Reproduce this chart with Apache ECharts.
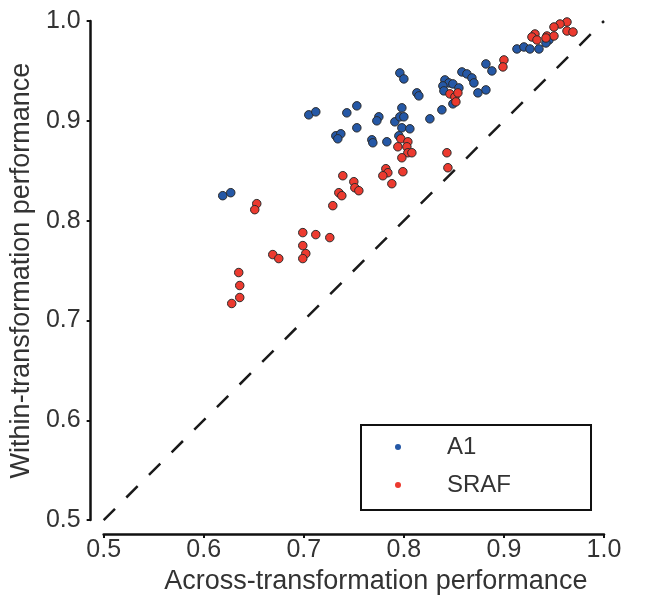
<!DOCTYPE html>
<html>
<head>
<meta charset="utf-8">
<script src="https://cdn.jsdelivr.net/npm/echarts@6/dist/echarts.min.js"></script>
<style>
  html, body { margin: 0; padding: 0; background: #fff; }
  #chart { width: 647px; height: 600px; }
</style>
</head>
<body>
<div id="chart"></div>
<script>
// axis range / ticks
var axisMin = 0.5;
var axisMax = 1.0;
var tickStep = 0.1;

// A1 points: [across, within]
var a1Points = [
  [0.796, 0.948], [0.800, 0.942], [0.813, 0.928], [0.815, 0.925], [0.705, 0.906],
  [0.712, 0.909], [0.743, 0.908], [0.753, 0.915], [0.798, 0.913], [0.775, 0.904],
  [0.773, 0.900], [0.791, 0.899], [0.796, 0.904], [0.800, 0.904], [0.753, 0.893],
  [0.798, 0.893], [0.806, 0.892], [0.732, 0.885], [0.737, 0.887], [0.734, 0.882],
  [0.768, 0.881], [0.769, 0.878], [0.783, 0.879], [0.795, 0.885], [0.619, 0.825],
  [0.627, 0.828], [0.945, 0.981], [0.942, 0.978], [0.913, 0.972], [0.920, 0.974],
  [0.926, 0.972], [0.935, 0.972], [0.882, 0.957], [0.888, 0.950], [0.858, 0.949],
  [0.863, 0.947], [0.868, 0.943], [0.870, 0.938], [0.841, 0.941], [0.845, 0.938],
  [0.849, 0.937], [0.839, 0.935], [0.855, 0.933], [0.840, 0.930], [0.882, 0.931],
  [0.874, 0.928], [0.849, 0.917], [0.838, 0.911], [0.826, 0.902]
];

// SRAF points: [across, within]
var srafPoints = [
  [0.797, 0.882], [0.804, 0.879], [0.794, 0.874], [0.803, 0.874], [0.804, 0.868],
  [0.808, 0.868], [0.798, 0.863], [0.782, 0.852], [0.784, 0.848], [0.779, 0.845],
  [0.799, 0.849], [0.788, 0.837], [0.739, 0.845], [0.750, 0.839], [0.751, 0.833],
  [0.755, 0.830], [0.735, 0.828], [0.738, 0.825], [0.729, 0.815], [0.653, 0.817],
  [0.651, 0.811], [0.699, 0.788], [0.712, 0.786], [0.726, 0.783], [0.699, 0.775],
  [0.669, 0.766], [0.675, 0.762], [0.702, 0.767], [0.699, 0.762], [0.635, 0.748],
  [0.636, 0.735], [0.636, 0.723], [0.628, 0.717], [0.963, 0.999], [0.956, 0.997],
  [0.950, 0.994], [0.963, 0.990], [0.969, 0.989], [0.943, 0.985], [0.950, 0.985],
  [0.931, 0.987], [0.928, 0.984], [0.933, 0.981], [0.942, 0.983], [0.900, 0.961],
  [0.899, 0.954], [0.846, 0.927], [0.851, 0.924], [0.854, 0.928], [0.852, 0.919],
  [0.843, 0.868], [0.844, 0.853]
];

// y = x reference
var identityLine = [[0.5, 0.5], [1.0, 1.0]];

var font = 'Liberation Sans, Arial, Helvetica, sans-serif';
var ink = '#333';

var myChart = echarts.init(document.getElementById('chart'));

function axisCommon(name) {
  return {
    type: 'value',
    name: name,
    nameLocation: 'middle',
    min: axisMin,
    max: axisMax,
    interval: tickStep,
    splitLine: { show: false },
    axisLine: { show: true, lineStyle: { color: '#111', width: 2.5 } },
    axisTick: { show: true, length: 4, lineStyle: { color: '#111', width: 2 } },
    axisLabel: {
      color: ink, fontFamily: font, fontSize: 25,
      formatter: function (v) { return v.toFixed(1); }
    },
    nameTextStyle: { color: ink, fontFamily: font, fontSize: 27 }
  };
}

var xAxis = axisCommon('Across-transformation performance');
xAxis.offset = 14;
xAxis.nameGap = 33;
xAxis.axisLabel.margin = 4;
xAxis.nameTextStyle.padding = [0, 0, 0, 44];

var yAxis = axisCommon('Within-transformation performance');
yAxis.offset = 13;
yAxis.nameGap = 47;
yAxis.axisLabel.margin = 10;

var option = {
  animation: false,
  backgroundColor: '#fff',
  grid: { left: 101, right: 43, top: 21, bottom: 79 },
  xAxis: xAxis,
  yAxis: yAxis,
  legend: {
    orient: 'vertical',
    left: 361,
    top: 425,
    padding: [10, 80, 13, 34],
    itemWidth: 24,
    itemHeight: 6,
    itemGap: 14,
    icon: 'circle',
    borderColor: '#111',
    borderWidth: 2,
    borderRadius: 0,
    data: [
      { name: 'A1', itemStyle: { borderWidth: 0 } },
      { name: 'SRAF', itemStyle: { borderWidth: 0 } }
    ],
    textStyle: {
      color: ink, fontFamily: font, fontSize: 24, lineHeight: 24,
      padding: [0, 0, 0, 32]
    }
  },
  series: [
    {
      name: 'diagonal',
      type: 'line',
      data: identityLine,
      symbol: 'none',
      silent: true,
      lineStyle: { color: '#1a1a1a', width: 2.5, type: [16, 16] },
      z: 1
    },
    {
      name: 'A1',
      type: 'scatter',
      data: a1Points,
      symbolSize: 8.5,
      itemStyle: { color: '#2558a6', borderColor: '#2a2a2a', borderWidth: 1, opacity: 1 },
      z: 2
    },
    {
      name: 'SRAF',
      type: 'scatter',
      data: srafPoints,
      symbolSize: 8.5,
      itemStyle: { color: '#ec3a2f', borderColor: '#2a2a2a', borderWidth: 1, opacity: 1 },
      z: 3
    }
  ]
};

myChart.setOption(option);
</script>
</body>
</html>
